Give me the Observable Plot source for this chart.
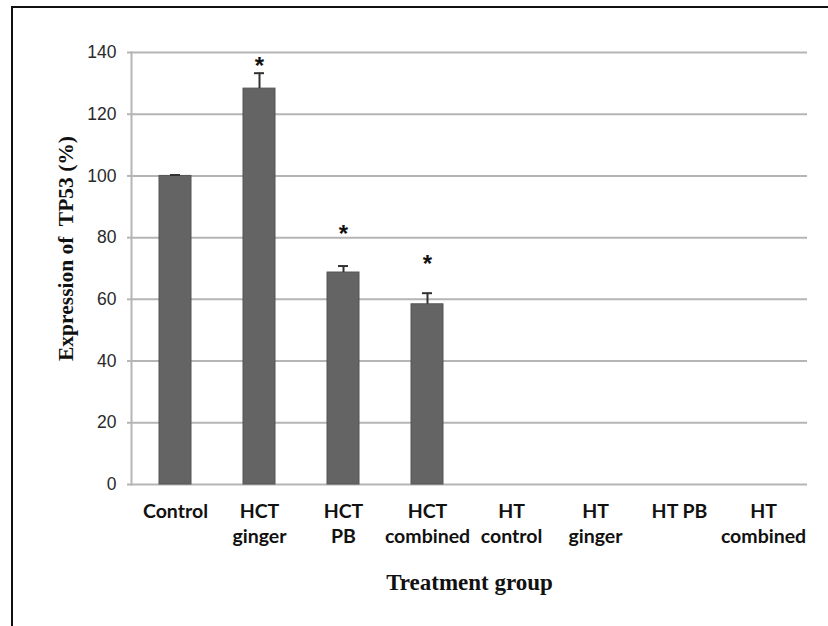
<!DOCTYPE html>
<html>
<head>
<meta charset="utf-8">
<script src="https://cdn.jsdelivr.net/npm/d3@7"></script>
<script src="https://cdn.jsdelivr.net/npm/@observablehq/plot@0.6"></script>
<style>
  html, body { margin: 0; padding: 0; background: #fff; }
  #wrap { position: relative; width: 828px; height: 626px; overflow: hidden; }
  #border { position: absolute; left: 11px; top: 6px; right: -10px; bottom: -10px;
            border-left: 2px solid #111; border-top: 2px solid #111; }
  #chart { position: absolute; left: 0; top: 0; }
</style>
</head>
<body>
<div id="wrap"><div id="border"></div><div id="chart"></div></div>
<script>
// Treatment groups along the x axis (line breaks as printed under each bar)
const groups = ["Control", "HCT\nginger", "HCT\nPB", "HCT\ncombined",
                "HT\ncontrol", "HT\nginger", "HT PB", "HT\ncombined"];

// Groups with a measured TP53 expression (%), with upper error (SD)
const measured   = ["Control", "HCT\nginger", "HCT\nPB", "HCT\ncombined"];
const expression = [100, 128.3, 68.7, 58.4];
const errors     = [0.3, 5.0, 2.1, 3.6];

// Significance markers and the level at which each asterisk sits
const significant = ["HCT\nginger", "HCT\nPB", "HCT\ncombined"];
const starLevel   = [136.4, 82.1, 72.3];

// Y-axis ticks
const yTicks = [0, 20, 40, 60, 80, 100, 120, 140];

const yTitle = "Expression of\u00a0 TP53 (%)";
const xTitle = "Treatment group";

const rows = measured.map((g, i) => ({group: g, value: expression[i], err: errors[i]}));
const stars = significant.map((g, i) => ({group: g, level: starLevel[i]}));

const gridColor = "#b5b5b5";
const narrow = "'Liberation Sans Narrow', 'Arial Narrow', 'Liberation Sans', sans-serif";

const chart = Plot.plot({
  width: 828,
  height: 626,
  marginLeft: 131,
  marginRight: 21,
  marginTop: 52,
  marginBottom: 142,
  style: {background: "transparent"},
  x: {domain: groups, paddingInner: 0.62, paddingOuter: 0.31, label: null},
  y: {domain: [0, 140], label: null},
  marks: [
    Plot.gridY(yTicks, {stroke: gridColor, strokeOpacity: 1, strokeWidth: 2}),
    Plot.frame({anchor: "left", stroke: gridColor, strokeWidth: 2}),
    Plot.axisY(yTicks, {
      tickSize: 4, tickPadding: 11, stroke: gridColor, strokeWidth: 2,
      fill: "#2a2a2a", fontSize: 17.5, fontFamily: narrow, fontStretch: "condensed",
      label: null
    }),
    Plot.axisX({
      tickSize: 0, tickPadding: 15, fontSize: 19.5, fontWeight: "bold",
      fontFamily: "Lato, 'Open Sans', sans-serif", lineHeight: 1.3, fill: "#111",
      label: null
    }),
    Plot.barY(rows, {x: "group", y: "value", fill: "#646464", stroke: "#555", strokeWidth: 1}),
    Plot.ruleX(rows, {x: "group", y1: "value", y2: d => d.value + d.err, stroke: "#333", strokeWidth: 2}),
    Plot.tickY(rows, {x: "group", y: d => d.value + d.err, insetLeft: 11, insetRight: 11,
                      stroke: "#333", strokeWidth: 2}),
    Plot.text(stars, {x: "group", y: "level", text: () => "*", fontSize: 24, fontWeight: "bold",
                      fontFamily: "'Liberation Sans', sans-serif", fill: "#111", dy: 3}),
    Plot.text([yTitle], {frameAnchor: "left", textAnchor: "middle", rotate: -90, dx: -65, dy: -20,
                         fontFamily: "'Liberation Serif', serif", fontWeight: "bold",
                         fontSize: 21.5, fill: "#111"}),
    Plot.text([xTitle], {frameAnchor: "bottom", lineAnchor: "middle", dy: 98,
                         fontFamily: "'Liberation Serif', serif", fontWeight: "bold",
                         fontSize: 23, fill: "#111"})
  ]
});
document.getElementById("chart").appendChild(chart);
</script>
</body>
</html>
